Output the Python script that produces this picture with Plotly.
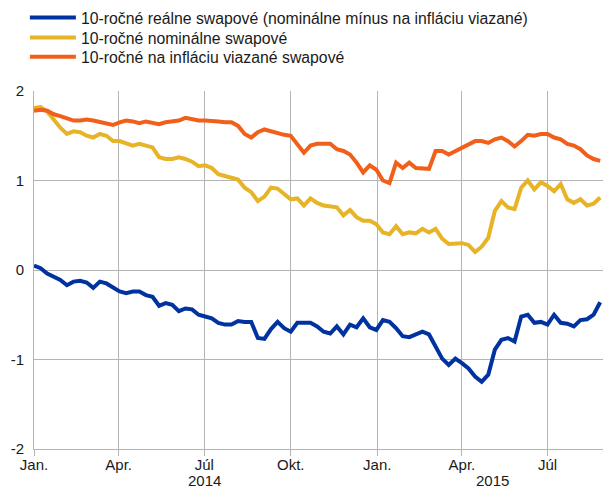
import pandas as pd
import plotly.graph_objects as go

# Weekly observations, Jan 2014 – Aug 2015
dates = pd.date_range("2014-01-01", periods=87, freq="7D")

real_swap = [
    0.05, 0.02, -0.04, -0.07, -0.11, -0.17, -0.13, -0.12, -0.14, -0.20,
    -0.13, -0.15, -0.20, -0.24, -0.26, -0.24, -0.24, -0.28, -0.30, -0.40,
    -0.37, -0.39, -0.46, -0.43, -0.44, -0.50, -0.52, -0.54, -0.59, -0.61,
    -0.61, -0.57, -0.58, -0.58, -0.76, -0.77, -0.66, -0.58, -0.65, -0.69,
    -0.59, -0.59, -0.59, -0.63, -0.69, -0.71, -0.63, -0.72, -0.61, -0.64,
    -0.54, -0.64, -0.67, -0.56, -0.58, -0.65, -0.74, -0.75, -0.72, -0.69,
    -0.72, -0.86, -0.99, -1.06, -0.99, -1.04, -1.10, -1.19, -1.25, -1.17,
    -0.89, -0.78, -0.76, -0.80, -0.52, -0.50, -0.59, -0.58, -0.61, -0.50,
    -0.59, -0.60, -0.63, -0.56, -0.55, -0.50, -0.36,
]

nominal_swap = [
    1.81, 1.82, 1.77, 1.68, 1.59, 1.52, 1.55, 1.54, 1.50, 1.48,
    1.52, 1.50, 1.44, 1.44, 1.41, 1.39, 1.41, 1.39, 1.37, 1.26,
    1.24, 1.24, 1.26, 1.24, 1.21, 1.16, 1.17, 1.14, 1.07, 1.05,
    1.03, 1.01, 0.92, 0.87, 0.77, 0.82, 0.92, 0.91, 0.85, 0.79,
    0.80, 0.72, 0.80, 0.75, 0.72, 0.71, 0.70, 0.61, 0.67, 0.59,
    0.55, 0.55, 0.51, 0.42, 0.40, 0.49, 0.40, 0.42, 0.41, 0.46,
    0.42, 0.46, 0.35, 0.29, 0.30, 0.30, 0.28, 0.20, 0.26, 0.36,
    0.66, 0.77, 0.70, 0.68, 0.92, 1.00, 0.90, 0.98, 0.94, 0.88,
    0.96, 0.79, 0.75, 0.79, 0.72, 0.74, 0.81,
]

inflation_swap = [
    1.78, 1.79, 1.78, 1.74, 1.72, 1.70, 1.67, 1.67, 1.68, 1.67,
    1.65, 1.63, 1.62, 1.65, 1.67, 1.66, 1.64, 1.66, 1.64, 1.63,
    1.65, 1.66, 1.67, 1.70, 1.68, 1.67, 1.67, 1.67, 1.66, 1.65,
    1.65, 1.61, 1.52, 1.48, 1.54, 1.57, 1.55, 1.52, 1.51, 1.50,
    1.41, 1.31, 1.39, 1.41, 1.41, 1.41, 1.35, 1.33, 1.29, 1.20,
    1.09, 1.17, 1.12, 1.00, 0.97, 1.20, 1.14, 1.20, 1.14, 1.14,
    1.13, 1.33, 1.33, 1.29, 1.33, 1.37, 1.41, 1.44, 1.44, 1.42,
    1.46, 1.48, 1.44, 1.38, 1.44, 1.51, 1.50, 1.52, 1.52, 1.48,
    1.46, 1.41, 1.39, 1.35, 1.28, 1.24, 1.22,
]

series_names = [
    "10-ročné reálne swapové (nominálne mínus na infláciu viazané)",
    "10-ročné nominálne swapové",
    "10-ročné na infláciu viazané swapové",
]
series_colors = ["#0033A0", "#E6B426", "#F0601A"]

tick_dates = ["2014-01-01", "2014-04-01", "2014-07-01", "2014-10-01",
              "2015-01-01", "2015-04-01", "2015-07-01"]
tick_labels = ["Jan.", "Apr.", "Júl", "Okt.", "Jan.", "Apr.", "Júl"]
y_ticks = [-2, -1, 0, 1, 2]
y_tick_labels = ["-2", "-1", "0", "1", "2"]
year_labels = ["2014", "2015"]
year_positions = ["2014-07-01", "2015-05-03"]

FONT = "Liberation Sans, Arial, sans-serif"
GRID = "#b4b4b4"
TXT = "#1a1a1a"

fig = go.Figure()
legend_ids = ["legend", "legend2", "legend3"]
for vals, name, col, lg in zip([real_swap, nominal_swap, inflation_swap],
                               series_names, series_colors, legend_ids):
    fig.add_trace(go.Scatter(x=dates, y=vals, mode="lines", name=name,
                             line=dict(color=col, width=4), legend=lg))

for lab, pos in zip(year_labels, year_positions):
    fig.add_annotation(x=pos, y=0, xref="x", yref="paper", text=lab,
                       showarrow=False, yanchor="top", yshift=-21,
                       font=dict(family=FONT, size=15, color=TXT))

legend_common = dict(x=-0.016, xanchor="left", yanchor="middle",
                     bgcolor="rgba(0,0,0,0)", font=dict(family=FONT, size=15.8, color=TXT),
                     itemwidth=46)
legend_rows = [1.2047, 1.1489, 1.0948]

fig.update_layout(
    width=603, height=487,
    margin=dict(l=34, r=0, t=91, b=38, autoexpand=False),
    paper_bgcolor="white", plot_bgcolor="white",
    font=dict(family=FONT, size=15, color=TXT),
    showlegend=True,
    legend=dict(y=legend_rows[0], **legend_common),
    legend2=dict(y=legend_rows[1], **legend_common),
    legend3=dict(y=legend_rows[2], **legend_common),
    xaxis=dict(range=["2014-01-01", "2015-08-29"], tickvals=tick_dates,
               ticktext=tick_labels, showgrid=True, gridcolor=GRID, gridwidth=1,
               ticks="outside", ticklen=6, tickcolor=GRID, ticklabelstandoff=-4,
               showline=True, linecolor=GRID, linewidth=1, zeroline=False),
    yaxis=dict(range=[-2, 2], tickvals=y_ticks, ticktext=y_tick_labels,
               showgrid=True, gridcolor=GRID, gridwidth=1,
               showline=True, linecolor=GRID, linewidth=1, zeroline=False,
               ticks="", ticklabelstandoff=6),
)

fig.write_html("out.html", config={"displayModeBar": False},
               post_script="document.body.style.margin='0px';document.body.style.overflow='hidden';")
